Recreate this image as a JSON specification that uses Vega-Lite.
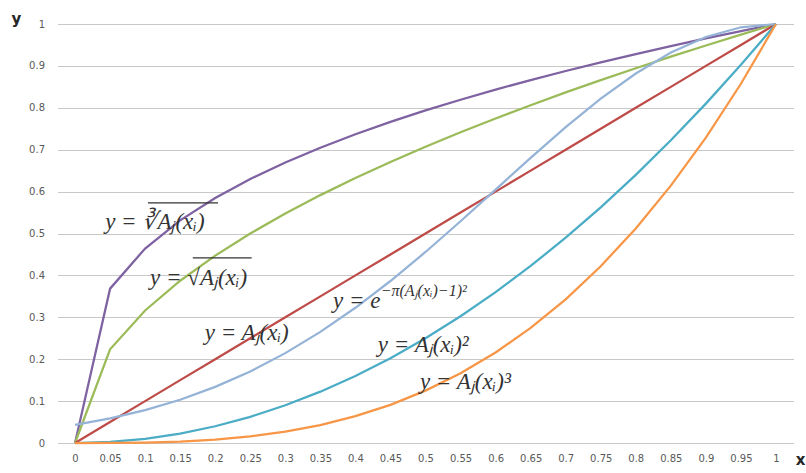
{
  "$schema": "https://vega.github.io/schema/vega-lite/v6.json",
  "width": 736,
  "height": 419,
  "autosize": {"type": "none"},
  "padding": {"left": 57.5, "top": 24, "right": 12.5, "bottom": 30},
  "background": "white",
  "config": {
    "view": {"stroke": null},
    "axis": {"labelFont": "DejaVu Sans", "labelFontSize": 10, "labelColor": "#595959", "domain": false, "ticks": false, "titleFont": "DejaVu Sans", "titleFontSize": 15, "titleFontWeight": "bold", "titleColor": "#262626"}
  },
  "datasets": {
    "lines": [
      {"x":0,"y":0,"s":"cbrt"},{"x":0.05,"y":0.3684,"s":"cbrt"},{"x":0.1,"y":0.4642,"s":"cbrt"},{"x":0.15,"y":0.5313,"s":"cbrt"},{"x":0.2,"y":0.5848,"s":"cbrt"},{"x":0.25,"y":0.63,"s":"cbrt"},{"x":0.3,"y":0.6694,"s":"cbrt"},{"x":0.35,"y":0.7047,"s":"cbrt"},{"x":0.4,"y":0.7368,"s":"cbrt"},{"x":0.45,"y":0.7663,"s":"cbrt"},{"x":0.5,"y":0.7937,"s":"cbrt"},{"x":0.55,"y":0.8193,"s":"cbrt"},{"x":0.6,"y":0.8434,"s":"cbrt"},{"x":0.65,"y":0.8662,"s":"cbrt"},{"x":0.7,"y":0.8879,"s":"cbrt"},{"x":0.75,"y":0.9086,"s":"cbrt"},{"x":0.8,"y":0.9283,"s":"cbrt"},{"x":0.85,"y":0.9473,"s":"cbrt"},{"x":0.9,"y":0.9655,"s":"cbrt"},{"x":0.95,"y":0.983,"s":"cbrt"},{"x":1,"y":1,"s":"cbrt"},
      {"x":0,"y":0,"s":"sqrt"},{"x":0.05,"y":0.2236,"s":"sqrt"},{"x":0.1,"y":0.3162,"s":"sqrt"},{"x":0.15,"y":0.3873,"s":"sqrt"},{"x":0.2,"y":0.4472,"s":"sqrt"},{"x":0.25,"y":0.5,"s":"sqrt"},{"x":0.3,"y":0.5477,"s":"sqrt"},{"x":0.35,"y":0.5916,"s":"sqrt"},{"x":0.4,"y":0.6325,"s":"sqrt"},{"x":0.45,"y":0.6708,"s":"sqrt"},{"x":0.5,"y":0.7071,"s":"sqrt"},{"x":0.55,"y":0.7416,"s":"sqrt"},{"x":0.6,"y":0.7746,"s":"sqrt"},{"x":0.65,"y":0.8062,"s":"sqrt"},{"x":0.7,"y":0.8367,"s":"sqrt"},{"x":0.75,"y":0.866,"s":"sqrt"},{"x":0.8,"y":0.8944,"s":"sqrt"},{"x":0.85,"y":0.922,"s":"sqrt"},{"x":0.9,"y":0.9487,"s":"sqrt"},{"x":0.95,"y":0.9747,"s":"sqrt"},{"x":1,"y":1,"s":"sqrt"},
      {"x":0,"y":0,"s":"lin"},{"x":0.05,"y":0.05,"s":"lin"},{"x":0.1,"y":0.1,"s":"lin"},{"x":0.15,"y":0.15,"s":"lin"},{"x":0.2,"y":0.2,"s":"lin"},{"x":0.25,"y":0.25,"s":"lin"},{"x":0.3,"y":0.3,"s":"lin"},{"x":0.35,"y":0.35,"s":"lin"},{"x":0.4,"y":0.4,"s":"lin"},{"x":0.45,"y":0.45,"s":"lin"},{"x":0.5,"y":0.5,"s":"lin"},{"x":0.55,"y":0.55,"s":"lin"},{"x":0.6,"y":0.6,"s":"lin"},{"x":0.65,"y":0.65,"s":"lin"},{"x":0.7,"y":0.7,"s":"lin"},{"x":0.75,"y":0.75,"s":"lin"},{"x":0.8,"y":0.8,"s":"lin"},{"x":0.85,"y":0.85,"s":"lin"},{"x":0.9,"y":0.9,"s":"lin"},{"x":0.95,"y":0.95,"s":"lin"},{"x":1,"y":1,"s":"lin"},
      {"x":0,"y":0.0432,"s":"exp"},{"x":0.05,"y":0.0587,"s":"exp"},{"x":0.1,"y":0.0785,"s":"exp"},{"x":0.15,"y":0.1033,"s":"exp"},{"x":0.2,"y":0.1339,"s":"exp"},{"x":0.25,"y":0.1708,"s":"exp"},{"x":0.3,"y":0.2145,"s":"exp"},{"x":0.35,"y":0.2652,"s":"exp"},{"x":0.4,"y":0.3227,"s":"exp"},{"x":0.45,"y":0.3866,"s":"exp"},{"x":0.5,"y":0.4559,"s":"exp"},{"x":0.55,"y":0.5293,"s":"exp"},{"x":0.6,"y":0.6049,"s":"exp"},{"x":0.65,"y":0.6806,"s":"exp"},{"x":0.7,"y":0.7537,"s":"exp"},{"x":0.75,"y":0.8217,"s":"exp"},{"x":0.8,"y":0.8819,"s":"exp"},{"x":0.85,"y":0.9318,"s":"exp"},{"x":0.9,"y":0.9691,"s":"exp"},{"x":0.95,"y":0.9922,"s":"exp"},{"x":1,"y":1,"s":"exp"},
      {"x":0,"y":0,"s":"sq"},{"x":0.05,"y":0.0025,"s":"sq"},{"x":0.1,"y":0.01,"s":"sq"},{"x":0.15,"y":0.0225,"s":"sq"},{"x":0.2,"y":0.04,"s":"sq"},{"x":0.25,"y":0.0625,"s":"sq"},{"x":0.3,"y":0.09,"s":"sq"},{"x":0.35,"y":0.1225,"s":"sq"},{"x":0.4,"y":0.16,"s":"sq"},{"x":0.45,"y":0.2025,"s":"sq"},{"x":0.5,"y":0.25,"s":"sq"},{"x":0.55,"y":0.3025,"s":"sq"},{"x":0.6,"y":0.36,"s":"sq"},{"x":0.65,"y":0.4225,"s":"sq"},{"x":0.7,"y":0.49,"s":"sq"},{"x":0.75,"y":0.5625,"s":"sq"},{"x":0.8,"y":0.64,"s":"sq"},{"x":0.85,"y":0.7225,"s":"sq"},{"x":0.9,"y":0.81,"s":"sq"},{"x":0.95,"y":0.9025,"s":"sq"},{"x":1,"y":1,"s":"sq"},
      {"x":0,"y":0,"s":"cube"},{"x":0.05,"y":0.000125,"s":"cube"},{"x":0.1,"y":0.001,"s":"cube"},{"x":0.15,"y":0.003375,"s":"cube"},{"x":0.2,"y":0.008,"s":"cube"},{"x":0.25,"y":0.015625,"s":"cube"},{"x":0.3,"y":0.027,"s":"cube"},{"x":0.35,"y":0.042875,"s":"cube"},{"x":0.4,"y":0.064,"s":"cube"},{"x":0.45,"y":0.091125,"s":"cube"},{"x":0.5,"y":0.125,"s":"cube"},{"x":0.55,"y":0.166375,"s":"cube"},{"x":0.6,"y":0.216,"s":"cube"},{"x":0.65,"y":0.274625,"s":"cube"},{"x":0.7,"y":0.343,"s":"cube"},{"x":0.75,"y":0.421875,"s":"cube"},{"x":0.8,"y":0.512,"s":"cube"},{"x":0.85,"y":0.614125,"s":"cube"},{"x":0.9,"y":0.729,"s":"cube"},{"x":0.95,"y":0.857375,"s":"cube"},{"x":1,"y":1,"s":"cube"}
    ],
    "labels": [
      {"t":"y = ∛Aⱼ(xᵢ)","x":0.043,"y":0.527},
      {"t":"y = √Aⱼ(xᵢ)","x":0.107,"y":0.394},
      {"t":"y = Aⱼ(xᵢ)","x":0.185,"y":0.263},
      {"t":"y = e","x":0.368,"y":0.338},
      {"t":"y = Aⱼ(xᵢ)²","x":0.432,"y":0.234},
      {"t":"y = Aⱼ(xᵢ)³","x":0.492,"y":0.146}
    ],
    "sups": [
      {"t":"−π(Aⱼ(xᵢ)−1)²","x":0.436,"y":0.362}
    ],
    "bars": [
      {"x":0.104,"x2":0.204,"y":0.573},
      {"x":0.168,"x2":0.252,"y":0.442}
    ]
  },
  "layer": [
    {
      "data": {"name": "lines"},
      "mark": {"type": "line", "strokeWidth": 2.25},
      "encoding": {
        "x": {"field": "x", "type": "quantitative", "scale": {"domain": [-0.025, 1.025], "nice": false, "zero": false},
          "axis": {"values": [0,0.05,0.1,0.15,0.2,0.25,0.3,0.35,0.4,0.45,0.5,0.55,0.6,0.65,0.7,0.75,0.8,0.85,0.9,0.95,1], "tickCount": 30, "format": "~g", "grid": false, "labelOverlap": false, "labelFlush": false, "labelPadding": 10, "title": "x", "titleAngle": 0, "titleX": 742.5, "titleY": 16, "titleAlign": "center", "titleBaseline": "middle"}},
        "y": {"field": "y", "type": "quantitative", "scale": {"domain": [0, 1], "nice": false},
          "axis": {"values": [0,0.1,0.2,0.3,0.4,0.5,0.6,0.7,0.8,0.9,1], "tickCount": 20, "format": "~g", "grid": true, "gridColor": "#c8c8c8", "gridWidth": 1, "labelOverlap": false, "labelFlush": false, "labelPadding": 13, "title": "y", "titleAngle": 0, "titleX": -41.5, "titleY": -6, "titleAlign": "center", "titleBaseline": "middle"}},
        "color": {"field": "s", "type": "nominal", "legend": null,
          "scale": {"domain": ["cbrt","sqrt","lin","exp","sq","cube"], "range": ["#7E62A1","#9BBB59","#BE4B48","#95B3D7","#4BACC6","#F79646"]}},
        "order": {"field": "x", "type": "quantitative"}
      }
    },
    {
      "data": {"name": "labels"},
      "mark": {"type": "text", "align": "left", "baseline": "middle", "font": "Liberation Serif", "fontStyle": "italic", "fontSize": 23, "color": "#333333"},
      "encoding": {
        "x": {"field": "x", "type": "quantitative"},
        "y": {"field": "y", "type": "quantitative"},
        "text": {"field": "t"}
      }
    },
    {
      "data": {"name": "sups"},
      "mark": {"type": "text", "align": "left", "baseline": "middle", "font": "Liberation Serif", "fontStyle": "italic", "fontSize": 16, "color": "#333333"},
      "encoding": {
        "x": {"field": "x", "type": "quantitative"},
        "y": {"field": "y", "type": "quantitative"},
        "text": {"field": "t"}
      }
    },
    {
      "data": {"name": "bars"},
      "mark": {"type": "rule", "color": "#333333", "strokeWidth": 1.2},
      "encoding": {
        "x": {"field": "x", "type": "quantitative"},
        "x2": {"field": "x2"},
        "y": {"field": "y", "type": "quantitative"}
      }
    }
  ]
}
